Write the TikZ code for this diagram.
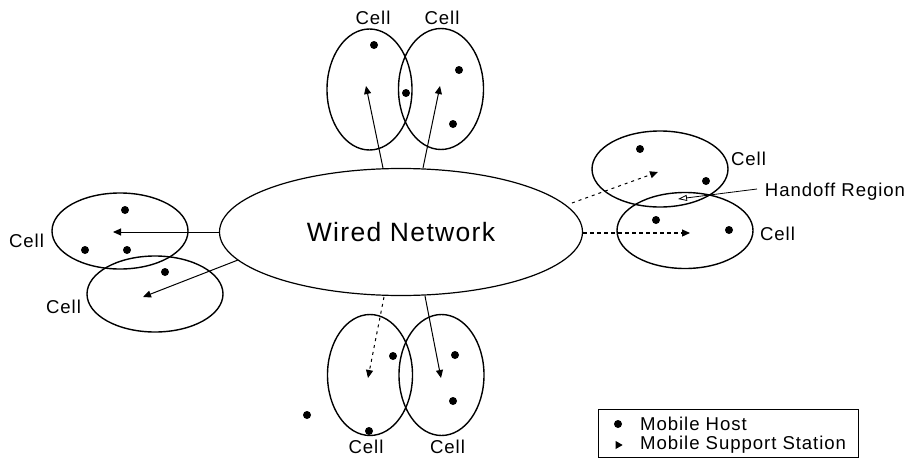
\documentclass[tikz,border=0pt]{standalone}
\usepackage{fontspec}
\setmainfont{Liberation Sans}[LetterSpace=5]
\usetikzlibrary{arrows.meta,shapes.geometric}
\begin{document}
\begin{tikzpicture}[x=1pt,y=-1pt,
  cellv/.style={ellipse, draw, line width=1.4pt, minimum width=85pt, minimum height=121pt, inner sep=0pt},
  cellh/.style={ellipse, draw, line width=1.4pt, minimum width=136pt, minimum height=76pt, inner sep=0pt},
  host/.style={circle, fill, inner sep=0pt, minimum size=8pt},
  lbl/.style={font=\fontsize{18.6}{20}\selectfont, inner sep=0pt},
  link/.style={-{Triangle[length=8pt,width=7pt]}, line width=1pt},
  dlink/.style={link, dash pattern=on 3pt off 4pt},
  dlinkb/.style={link, line width=1.2pt, dash pattern=on 4pt off 3pt},
  handoff/.style={-{Triangle[open,length=9pt,width=6pt]}, line width=0.8pt}
]
\useasboundingbox (0,0) rectangle (911,458);

% wired network
\node[ellipse, draw, line width=1.2pt, minimum width=363pt, minimum height=127pt, inner sep=0pt,
      font=\fontsize{26.5}{28}\selectfont] (wn) at (401,232) {Wired Network};

% top cells
\node[cellv] (t1) at (369.5,89.5) {};
\node[cellv] (t2) at (441,89) {};
\node[host] (ht1) at (374,45) {};
\node[host] (ht2) at (406,93) {};
\node[host] (ht3) at (459,70) {};
\node[host] (ht4) at (453,124) {};
\node[lbl] (lt1) at (373,18) {Cell};
\node[lbl] (lt2) at (442,18) {Cell};
\coordinate (st1) at (383,168);
\coordinate (st2) at (423,168);
\coordinate (mt1) at (366,86);
\coordinate (mt2) at (440,86);
\draw[link] (st1) -- (mt1);
\draw[link] (st2) -- (mt2);

% bottom cells
\node[cellv] (b1) at (370,375) {};
\node[cellv] (b2) at (441.5,375) {};
\node[host] (hb1) at (393,356) {};
\node[host] (hb2) at (455,355) {};
\node[host] (hb3) at (453,401) {};
\node[host] (hb4) at (369,431) {};
\node[host] (hb5) at (307,415) {};
\node[lbl] (lb1) at (366,446.5) {Cell};
\node[lbl] (lb2) at (447.5,446.5) {Cell};
\coordinate (sb1) at (384,297);
\coordinate (sb2) at (425,296);
\coordinate (mb1) at (368,378);
\coordinate (mb2) at (441,378);
\draw[dlink] (sb1) -- (mb1);
\draw[link] (sb2) -- (mb2);

% left cells
\node[cellh] (l1) at (120,231) {};
\node[cellh] (l2) at (155,294) {};
\node[host] (hl1) at (125,210) {};
\node[host] (hl2) at (85,250) {};
\node[host] (hl3) at (127,250) {};
\node[host] (hl4) at (165,272) {};
\node[lbl] (ll1) at (26.5,241) {Cell};
\node[lbl] (ll2) at (63.5,307) {Cell};
\coordinate (sl1) at (220,232);
\coordinate (sl2) at (238,260);
\coordinate (ml1) at (113,232);
\coordinate (ml2) at (143,297);
\draw[link] (sl1) -- (ml1);
\draw[link] (sl2) -- (ml2);

% right cells
\node[cellh] (r1) at (660,169) {};
\node[cellh] (r2) at (685,230.5) {};
\node[host] (hr1) at (640,149) {};
\node[host] (hr2) at (706,181) {};
\node[host] (hr3) at (656,220) {};
\node[host] (hr4) at (729,230) {};
\node[lbl] (lr1) at (748.5,159) {Cell};
\node[lbl] (lr2) at (777.5,234) {Cell};
\node[lbl] (lho) at (835,192) {Handoff Region};
\coordinate (sr1) at (572,203);
\coordinate (sr2) at (583,233);
\coordinate (mr1) at (658,172);
\coordinate (mr2) at (690,233);
\draw[dlink] (sr1) -- (mr1);
\draw[dlinkb] (sr2) -- (mr2);
\coordinate (hs) at (757,189);
\coordinate (ht) at (678,199);
\draw[handoff] (hs) -- (ht);

% legend
\node[draw, line width=1pt, minimum width=260pt, minimum height=48pt, inner sep=0pt] (leg) at (728,433) {};
\node[host] (lgh) at (618,424) {};
\node[lbl, anchor=west] (lgt1) at (640,424) {Mobile Host};
\node[lbl, anchor=west] (lgt2) at (640,445) {Mobile Support Station};
\node[isosceles triangle, fill, inner sep=0pt, minimum height=7pt, minimum width=7pt, isosceles triangle apex angle=60] (lgm) at (618,445) {};
\end{tikzpicture}
\end{document}
